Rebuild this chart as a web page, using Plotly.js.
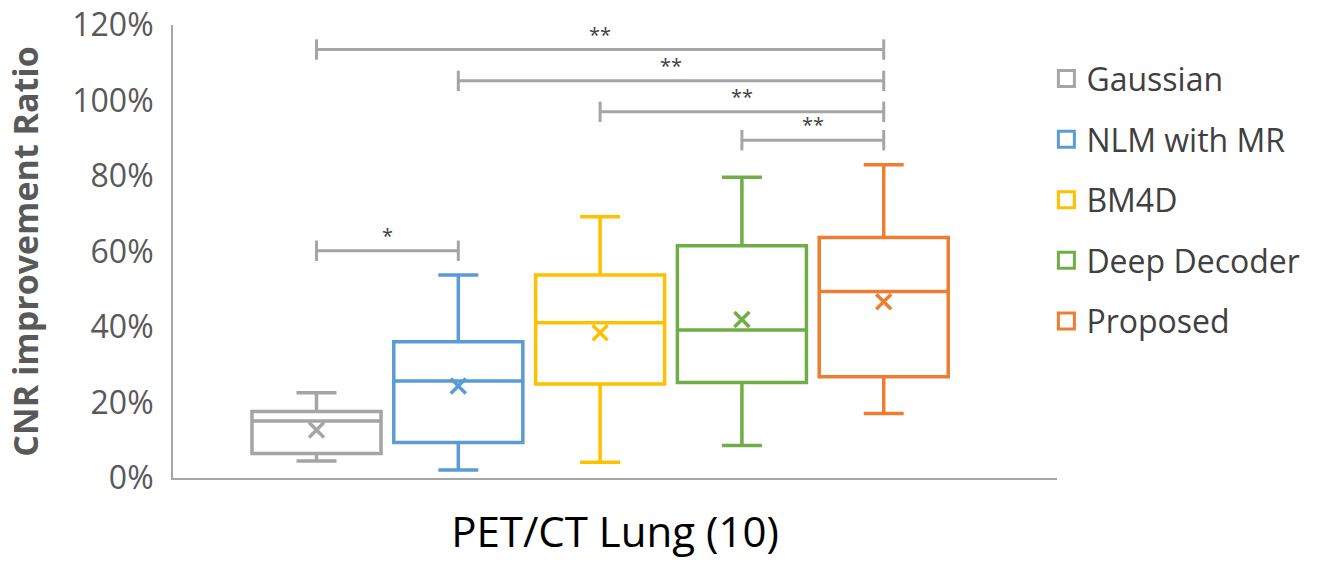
<!DOCTYPE html>
<html>
<head>
<meta charset="utf-8">
<script src="https://cdn.plot.ly/plotly-3.0.1.min.js"></script>
<style>
  html, body { margin: 0; padding: 0; background: #ffffff; }
  #chart { width: 1344px; height: 565px; }
</style>
</head>
<body>
<div id="chart"></div>
<script>
// ---- data ----
const categories = ['PET/CT Lung (10)'];
const seriesNames = ['Gaussian', 'NLM with MR', 'BM4D', 'Deep Decoder', 'Proposed'];
const seriesColors = ['#A5A5A5', '#5B9BD5', '#FFC000', '#70AD47', '#ED7D31'];
const lowerWhisker = [0.045, 0.021, 0.042, 0.086, 0.171];
const q1 = [0.065, 0.094, 0.249, 0.253, 0.268];
const median = [0.151, 0.257, 0.411, 0.392, 0.494];
const q3 = [0.176, 0.361, 0.538, 0.615, 0.637];
const upperWhisker = [0.226, 0.538, 0.692, 0.797, 0.830];
const mean = [0.127, 0.244, 0.385, 0.420, 0.467];

// significance brackets (series index pairs)
const sigFrom = [0, 1, 2, 3, 0];
const sigTo = [4, 4, 4, 4, 1];
const sigLevel = [1.135, 1.052, 0.970, 0.895, 0.602];
const sigLabel = ['**', '**', '**', '**', '*'];

const yTickVals = [0, 0.2, 0.4, 0.6, 0.8, 1.0, 1.2];

// ---- build traces ----
const xRange = [-1.012, 5.222];
const traces = [];

seriesNames.forEach((name, i) => {
  traces.push({
    type: 'box',
    name: name,
    x: [i],
    q1: [q1[i]],
    median: [median[i]],
    q3: [q3[i]],
    lowerfence: [lowerWhisker[i]],
    upperfence: [upperWhisker[i]],
    width: 0.91,
    whiskerwidth: 0.31,
    line: { color: seriesColors[i], width: 3.5 },
    fillcolor: 'rgba(255,255,255,0)',
    showlegend: false,
    hoverinfo: 'skip'
  });
  traces.push({
    type: 'scatter',
    mode: 'markers',
    x: [i],
    y: [mean[i]],
    marker: { symbol: 'x-thin-open', size: 15, color: seriesColors[i], line: { color: seriesColors[i], width: 3.5 } },
    showlegend: false,
    hoverinfo: 'skip'
  });
});

// legend entries
seriesNames.forEach((name, i) => {
  traces.push({
    type: 'scatter',
    mode: 'markers',
    name: name,
    legendgroup: 'g' + i,
    x: [null],
    y: [null],
    marker: { symbol: 'square-open', size: 16, color: seriesColors[i], line: { color: seriesColors[i], width: 3 } }
  });
});

// significance brackets
const tickHalf = 0.027;
const annotations = [];
sigFrom.forEach((a, k) => {
  const b = sigTo[k];
  const y = sigLevel[k];
  traces.push({
    type: 'scatter',
    mode: 'lines',
    x: [a, a, null, a, b, null, b, b],
    y: [y - tickHalf, y + tickHalf, null, y, y, null, y - tickHalf, y + tickHalf],
    line: { color: '#A5A5A5', width: 3 },
    showlegend: false,
    hoverinfo: 'skip'
  });
  annotations.push({
    x: (a + b) / 2,
    y: y,
    xref: 'x',
    yref: 'y',
    text: sigLabel[k],
    showarrow: false,
    yanchor: 'bottom',
    yshift: 0,
    font: { family: 'Open Sans, sans-serif', size: 20, color: '#404040' }
  });
});

const layout = {
  width: 1344,
  height: 565,
  paper_bgcolor: '#ffffff',
  plot_bgcolor: '#ffffff',
  margin: { l: 173, r: 287, t: 25, b: 87 },
  showlegend: true,
  legend: {
    x: 0.988,
    xanchor: 'left',
    y: 0.942,
    yanchor: 'top',
    yref: 'paper',
    traceorder: 'grouped',
    tracegroupgap: 16,
    font: { family: 'Open Sans, sans-serif', size: 32, color: '#404040' },
    bgcolor: 'rgba(0,0,0,0)'
  },
  xaxis: {
    range: xRange,
    showgrid: false,
    zeroline: false,
    showline: true,
    linecolor: '#A6A6A6',
    linewidth: 2,
    ticks: '',
    tickvals: [(xRange[0] + xRange[1]) / 2],
    ticktext: categories,
    ticklabelstandoff: 17,
    tickfont: { family: 'Open Sans, sans-serif', size: 42, color: '#000000' },
    fixedrange: true
  },
  yaxis: {
    range: [0, 1.2],
    tickvals: yTickVals,
    tickformat: '.0%',
    showgrid: false,
    zeroline: false,
    showline: true,
    linecolor: '#A6A6A6',
    linewidth: 2,
    ticks: '',
    ticklabelstandoff: 11,
    tickfont: { family: 'Open Sans, sans-serif', size: 32, color: '#595959' },
    title: {
      text: '<b>CNR improvement Ratio</b>',
      font: { family: 'Open Sans, sans-serif', size: 34, color: '#595959' },
      standoff: 23
    },
    fixedrange: true
  },
  annotations: annotations
};

Plotly.newPlot('chart', traces, layout, { displayModeBar: false, staticPlot: true });
</script>
</body>
</html>
